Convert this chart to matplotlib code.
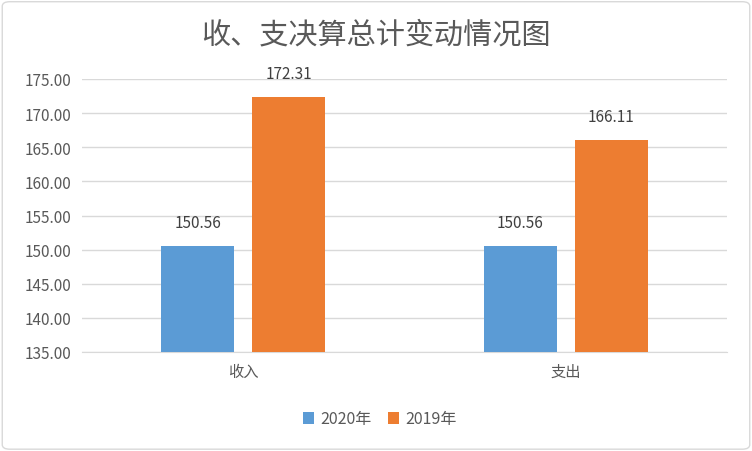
import numpy as np
import matplotlib.pyplot as plt
from matplotlib.patches import FancyBboxPatch

plt.rcParams['font.family'] = ['Noto Sans CJK SC', 'DejaVu Sans']

categories = ['收入', '支出']
series_names = ['2020年', '2019年']
values_2020 = [150.56, 150.56]
values_2019 = [172.31, 166.11]
colors = ['#5B9BD5', '#ED7D31']

fig = plt.figure(figsize=(7.52, 4.52), dpi=100)
ax = fig.add_axes([82 / 752, 1 - 353 / 452, 645 / 752, 273 / 452])

x = np.arange(len(categories))
w = 0.227
gap = 0.056
off = (w + gap) / 2
b1 = ax.bar(x - off, values_2020, w, color=colors[0], label=series_names[0], zorder=3)
b2 = ax.bar(x + off, values_2019, w, color=colors[1], label=series_names[1], zorder=3)

for bars in (b1, b2):
    for r in bars:
        ax.text(r.get_x() + r.get_width() / 2, r.get_height() + 2.2, f'{r.get_height():.2f}',
                ha='center', va='bottom', fontsize=11, color='#404040')

ax.set_ylim(135, 175)
ax.set_xlim(-0.5, 1.5)
ax.set_yticks(np.arange(135, 176, 5))
ax.set_yticklabels([f'{v:.2f}' for v in np.arange(135, 176, 5)], fontsize=11, color='#595959')
ax.set_xticks(x)
ax.set_xticklabels(categories, fontsize=11, color='#595959')
ax.tick_params(length=0, pad=8)
ax.grid(axis='y', color='#D9D9D9', linewidth=1, zorder=0)
for s in ['top', 'right', 'left']:
    ax.spines[s].set_visible(False)
ax.spines['bottom'].set_color('#D9D9D9')

fig.text(0.5, 1 - 35 / 452, '收、支决算总计变动情况图', ha='center', va='center',
         fontsize=21, color='#595959')

fig.legend(loc='center', bbox_to_anchor=(0.505, 1 - 420 / 452), ncol=2, frameon=False,
           fontsize=11.5, handlelength=0.7, handleheight=0.7, columnspacing=1.0,
           handletextpad=0.4, labelcolor='#595959')

fig.patches.append(FancyBboxPatch((0.003, 0.004), 0.994, 0.99, boxstyle='round,pad=0,rounding_size=0.01',
                                  transform=fig.transFigure, fill=False, edgecolor='#D9D9D9', linewidth=1))

fig.savefig('out.png', dpi=100)
